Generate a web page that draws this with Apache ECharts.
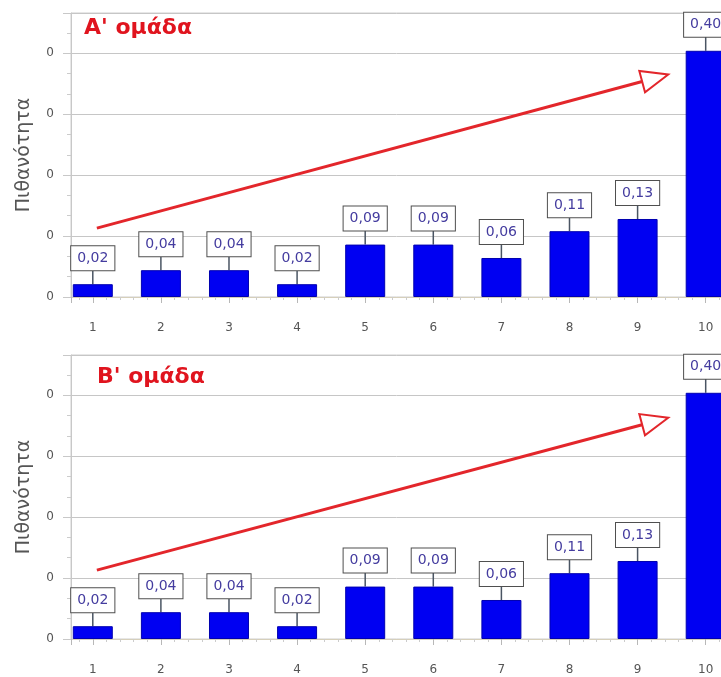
<!DOCTYPE html>
<html>
<head>
<meta charset="utf-8">
<script src="https://cdn.jsdelivr.net/npm/echarts@6/dist/echarts.min.js"></script>
<style>
  html, body { margin: 0; padding: 0; background: #fff; }
  #chart { width: 721px; height: 677px; }
</style>
</head>
<body>
<div id="chart"></div>
<script>
// τιμές όπως διαβάζονται από την εικόνα
const categories = [1, 2, 3, 4, 5, 6, 7, 8, 9, 10];
const groupA = [0.021, 0.044, 0.044, 0.021, 0.086, 0.086, 0.064, 0.108, 0.128, 0.404];
const groupB = [0.021, 0.044, 0.044, 0.021, 0.086, 0.086, 0.064, 0.108, 0.128, 0.404];
const panelTitles = ["Α' ομάδα", "Β' ομάδα"];
const yName = 'Πιθανότητα';
// βέλος τάσης: [x1, y1, x2, y2] σε μονάδες αξόνων
const arrowA = [1.06, 0.113, 9.45, 0.365];
const arrowB = [1.06, 0.113, 9.45, 0.363];

const font = 'DejaVu Sans';
const tops = [13, 355];

function fmt(v) { return v.toFixed(2).replace('.', ','); }

function connector(params, api) {
  const p = api.coord([api.value(0), api.value(1)]);
  return {
    type: 'line',
    shape: { x1: p[0], y1: p[1], x2: p[0], y2: p[1] - 14 },
    style: { stroke: '#4a5563', lineWidth: 1.5 }
  };
}

function arrow(params, api) {
  const a = api.coord([api.value(0), api.value(1)]);
  const b = api.coord([api.value(2), api.value(3)]);
  const dx = b[0] - a[0], dy = b[1] - a[1];
  const len = Math.sqrt(dx * dx + dy * dy);
  const ux = dx / len, uy = dy / len;
  const L = 27, W = 11;
  const bx = b[0] - ux * L, by = b[1] - uy * L;
  return {
    type: 'group',
    children: [
      { type: 'line', shape: { x1: a[0], y1: a[1], x2: bx, y2: by },
        style: { stroke: '#e3262b', lineWidth: 3 } },
      { type: 'polygon',
        shape: { points: [[b[0], b[1]], [bx - uy * W, by + ux * W], [bx + uy * W, by - ux * W]] },
        style: { fill: '#fff', stroke: '#e3262b', lineWidth: 2 } }
    ]
  };
}

const grids = [], xAxes = [], yAxes = [], series = [], titles = [];
[groupA, groupB].forEach(function (vals, i) {
  grids.push({ left: 71, top: tops[i], height: 284, width: 681,
    outerBoundsMode: 'none', containLabel: false,
    show: true, borderColor: '#cfcfcf', borderWidth: 1 });
  xAxes.push({
    type: 'value', gridIndex: i, min: 0.68, max: 10.68, splitNumber: 10,
    offset: 9,
    axisLine: { show: true, lineStyle: { color: '#d6cfba' } },
    axisTick: { show: true, length: 6, lineStyle: { color: '#b8b8b8' } },
    minorTick: { show: true, splitNumber: 5, length: 3, lineStyle: { color: '#cccccc' } },
    axisLabel: { margin: 16, color: '#555', fontSize: 12, fontFamily: font,
      showMinLabel: false, showMaxLabel: false,
      formatter: function (v) { return Number.isInteger(v) ? String(v) : ''; } },
    splitLine: { show: false }
  });
  yAxes.push({
    type: 'value', gridIndex: i, min: 0, max: 0.466, interval: 0.1,
    name: yName, nameLocation: 'middle', nameGap: 37,
    nameTextStyle: { fontSize: 19, color: '#555', fontFamily: font },
    axisLine: { show: true, lineStyle: { color: '#c8c8c8' } },
    axisTick: { show: true, length: 8, lineStyle: { color: '#c8c8c8' } },
    minorTick: { show: true, splitNumber: 3, length: 4, lineStyle: { color: '#cccccc' } },
    axisLabel: { margin: 17, color: '#555', fontSize: 12, fontFamily: font, showMaxLabel: false,
      formatter: function (v) { return String(Math.round(v)); } },
    splitLine: { show: true, lineStyle: { color: '#c6c6c6' } }
  });
  const pts = categories.map(function (c, k) { return [c, vals[k]]; });
  series.push({
    type: 'bar', xAxisIndex: i, yAxisIndex: i, data: pts, barWidth: 40,
    itemStyle: { color: '#0000f2', borderColor: '#0000b0', borderWidth: 1 },
    label: {
      show: true, position: 'top', distance: 14,
      formatter: function (p) { return fmt(p.value[1]); },
      color: '#443c9f', fontSize: 14, fontFamily: font, lineHeight: 16,
      backgroundColor: '#fff', borderColor: '#4f4f4f', borderWidth: 1, padding: [4, 6]
    },
    z: 3
  });
  series.push({
    type: 'custom', xAxisIndex: i, yAxisIndex: i, data: pts, renderItem: connector, z: 2, silent: true
  });
  series.push({
    type: 'custom', xAxisIndex: i, yAxisIndex: i, data: [i === 0 ? arrowA : arrowB],
    encode: { x: [0, 2], y: [1, 3] }, renderItem: arrow, z: 4, silent: true, clip: false
  });
  titles.push({
    text: panelTitles[i], left: i === 0 ? 84 : 97, top: tops[i] + (i === 0 ? 4 : 11), padding: 0,
    textStyle: { color: '#e0141e', fontSize: 22, fontWeight: 'bold', fontFamily: font }
  });
});

const chart = echarts.init(document.getElementById('chart'));
chart.setOption({
  animation: false,
  backgroundColor: '#fff',
  textStyle: { fontFamily: font },
  title: titles,
  grid: grids,
  xAxis: xAxes,
  yAxis: yAxes,
  series: series
});
</script>
</body>
</html>
